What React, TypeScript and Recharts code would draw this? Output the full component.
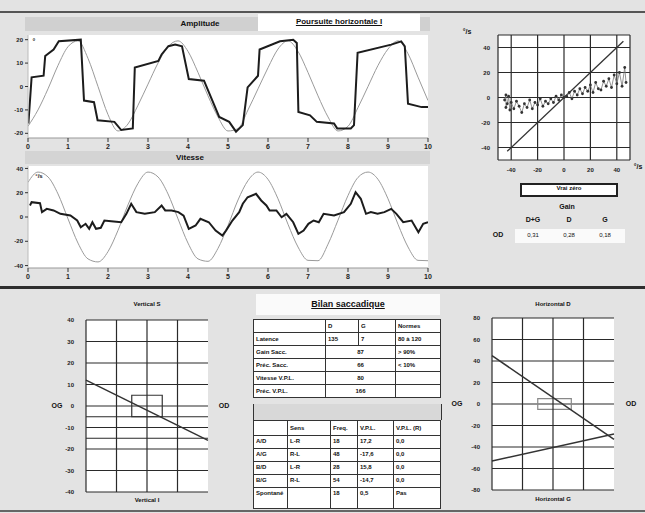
import React from 'react';
import {
  LineChart, Line, XAxis, YAxis, CartesianGrid, ScatterChart, Scatter,
  ReferenceLine, ReferenceArea,
} from 'recharts';

// ---------- DATA ----------
const timeTicks = [0, 1, 2, 3, 4, 5, 6, 7, 8, 9, 10];

// Amplitude: target (thin grey) sampled every 0.25 s
const ampTargetT = [0, 0.25, 0.5, 0.75, 1, 1.25, 1.5, 1.75, 2, 2.25, 2.5, 2.75, 3, 3.25, 3.5, 3.75, 4, 4.25, 4.5, 4.75, 5, 5.25, 5.5, 5.75, 6, 6.25, 6.5, 6.75, 7, 7.25, 7.5, 7.75, 8, 8.25, 8.5, 8.75, 9, 9.25, 9.5, 9.75, 10];
const ampTargetV = [-17, -10, -1, 9, 17, 19.5, 12, 0, -12, -19, -16, -8, 1, 10, 17, 19.5, 15, 6, -4, -13, -19, -18, -10, -1, 8, 16, 19.5, 15, 6, -4, -13, -19, -17, -9, 0, 9, 16, 19.5, 14, 4, -6];
// Amplitude: eye position (staircase)
const ampEyeT = [0.01, 0.09, 0.39, 0.43, 0.64, 0.77, 1.32, 1.4, 1.65, 1.74, 2.16, 2.33, 2.62, 2.67, 3.26, 3.34, 3.51, 3.68, 3.85, 4.02, 4.4, 4.78, 5.03, 5.2, 5.37, 5.49, 5.75, 5.79, 6.3, 6.63, 6.72, 6.76, 7.05, 7.22, 7.65, 7.73, 8.07, 8.15, 8.24, 9.08, 9.33, 9.42, 9.5, 9.84, 10];
const ampEyeV = [-15.8, 3.9, 4.6, 13, 15.8, 19.3, 20, -6, -6.7, -14.4, -15.1, -18.6, -17.9, 8.1, 10.9, 13.7, 17.2, 17.9, 17.2, 3.2, 2.5, -13, -15.1, -19.3, -16.5, -0.4, 4.6, 15.8, 19.3, 20, 18.6, -10.9, -12.3, -15.1, -15.8, -17.9, -17.9, -16.5, 14.4, 17.9, 19.3, 17.2, -7.4, -8.8, -8.8];

// Velocity: target (sinusoid) sampled every 0.25 s
const velTargetV = [28.5, 37, 33, 19, -1.5, -21.5, -34.5, -37, -28.5, -11, 10, 27.7, 37, 33, 19, -1.5, -21.5, -34.5, -36.5, -25.8, -7, 14, 30, 37, 31, 15, -6, -24.7, -35.7, -36, -22.4, -2.6, 17.7, 32.6, 37, 31, 15, -6, -24.7, -35.7, -36];
// Velocity: eye
const velEyeT = [0.05, 0.09, 0.3, 0.35, 0.47, 0.64, 0.81, 1.06, 1.23, 1.32, 1.44, 1.53, 1.61, 1.7, 1.82, 1.91, 2.08, 2.33, 2.46, 2.58, 2.71, 2.92, 3.17, 3.34, 3.43, 3.59, 3.76, 3.89, 4.02, 4.19, 4.31, 4.52, 4.69, 4.86, 4.95, 5.11, 5.28, 5.37, 5.49, 5.7, 5.83, 5.96, 6.04, 6.21, 6.34, 6.46, 6.63, 6.76, 6.89, 7.01, 7.14, 7.27, 7.39, 7.65, 7.9, 8.07, 8.19, 8.32, 8.45, 8.57, 8.74, 8.91, 9.08, 9.21, 9.38, 9.59, 9.76, 9.88, 10];
const velEyeV = [9.5, 12.2, 11.4, 4, 6.7, 5.4, 2.6, 1.2, -2.9, -8.4, -5.6, -9.7, -4.3, -9.7, -8.9, -2.9, -3.5, -4.3, 2.6, 10.9, 4, 2.6, 4, 9.5, 5.4, 5.4, 4, 1.2, -9.7, -7, -1.5, -4.3, -11.2, -15.3, -11.2, -2.9, 4, 10.9, 16.3, 19.1, 13.6, 9.5, 5.4, 5.4, -0.2, 2.6, -4.3, -13.9, -11.2, -5.6, -2.9, -4.3, 2.6, 1.2, 4, 10.9, 20.5, 15, 2.6, 4, 2.6, 4, 6.7, 2.6, -4.3, -2.9, -12.5, -5.6, -4.3];

// Gain scatter: target velocity vs eye velocity
const gainTarget = [-45, -44, -44, -43, -42, -41, -40, -38, -36, -34, -32, -30, -28, -26, -24, -22, -20, -18, -16, -14, -12, -10, -8, -6, -4, -2, 0, 2, 4, 6, 8, 10, 12, 14, 16, 18, 20, 22, 24, 26, 28, 30, 32, 34, 36, 38, 40, 42, 44, 46, 47];
const gainEye = [-2, 2, -8, -5, 1, -10, -4, -9, -3, -7, -12, -5, -8, -2, -9, -4, -6, -1, -7, -3, -5, -1, -4, 1, -2, 2, 0, 1, 4, -1, 5, 2, 7, 3, 8, 5, 10, 4, 12, 7, 6, 13, 9, 15, 8, 18, 11, 20, 9, 24, 12];
const gainTicks = [-40, -20, 0, 20, 40];
const identityLine = [-43, 45];

const gainHeaders = ['D+G', 'D', 'G'];
const gainValues = ['0,31', '0,28', '0,18'];

// Bottom-left chart
const leftTicks = [40, 30, 20, 10, 0, -10, -20, -30, -40];
const leftLineX = [-2, 2];
const leftLineY = [12, -16];
const leftExtra = [-5, -15];
// Bottom-right chart
const rightTicks = [80, 60, 40, 20, 0, -20, -40, -60, -80];
const rightLine1X = [-2, 2];
const rightLine1Y = [45, -33];
const rightLine2X = [-2, 2];
const rightLine2Y = [-53, -28];
const colLines = [-1, 0, 1];

// Table
const table1Header = ['', 'D', 'G', 'Normes'];
const table1Latence = ['Latence', '135', '7', '80 à 120'];
const table1Rows = [
  ['Gain Sacc.', '87', '> 90%'],
  ['Préc. Sacc.', '66', '< 10%'],
  ['Vitesse V.P.L.', '80', ''],
  ['Préc. V.P.L.', '166', ''],
];
const table2Header = ['', 'Sens', 'Freq.', 'V.P.L.', 'V.P.L. (R)'];
const table2Rows = [
  ['A/D', 'L-R', '18', '17,2', '0,0'],
  ['A/G', 'R-L', '48', '-17,6', '0,0'],
  ['B/D', 'L-R', '28', '15,8', '0,0'],
  ['B/G', 'R-L', '54', '-14,7', '0,0'],
  ['Spontané', '', '18', '0,5', 'Pas'],
];

// ---------- BUILD ----------
const ampTarget = ampTargetT.map((t, i) => ({ t, v: ampTargetV[i] }));
const ampEye = ampEyeT.map((t, i) => ({ t, v: ampEyeV[i] }));
const velTarget = ampTargetT.map((t, i) => ({ t, v: velTargetV[i] }));
const velEye = velEyeT.map((t, i) => ({ t, v: velEyeV[i] }));
const gainData = gainTarget.map((x, i) => ({ x, y: gainEye[i] }));
const leftLine = leftLineX.map((x, i) => ({ x, y: leftLineY[i] }));
const rightLine1 = rightLine1X.map((x, i) => ({ x, y: rightLine1Y[i] }));
const rightLine2 = rightLine2X.map((x, i) => ({ x, y: rightLine2Y[i] }));

const FONT = '"Liberation Sans", Arial, sans-serif';
const tickStyle = { fontSize: 6, fontWeight: 'bold' as const, fill: '#222', fontFamily: FONT };

const abs = (left: number, top: number, extra: React.CSSProperties = {}): React.CSSProperties => ({
  position: 'absolute', left, top, ...extra,
});

const Label = ({ x, y, text, size = 7, bold = true, w = 80, align = 'center', underline = false }: any) => (
  <div style={abs(align === 'center' ? x - w / 2 : x, y - size * 0.65, {
    width: w, textAlign: align, fontSize: size, fontWeight: bold ? 'bold' : 'normal',
    fontFamily: FONT, color: '#111', lineHeight: 1.2, whiteSpace: 'nowrap',
    textDecoration: underline ? 'underline' : 'none',
  })}>{text}</div>
);

const TimeChart = ({ top, domain, ticks, target, eye, height }: any) => (
  <div style={abs(0, top)}>
    <LineChart width={440} height={height} margin={{ top: 3, right: 12, bottom: 0, left: 8 }}>
      <CartesianGrid fill="#ffffff" horizontal={false} vertical={false} />
      <XAxis type="number" dataKey="t" domain={[0, 10]} ticks={timeTicks} allowDataOverflow
        tick={{ ...tickStyle, fontSize: 7 }} tickLine={{ stroke: '#333' }} axisLine={{ stroke: '#999' }} height={16} tickSize={4} />
      <YAxis type="number" domain={domain} ticks={ticks} width={20} allowDataOverflow
        tick={tickStyle} tickLine={{ stroke: '#333' }} axisLine={{ stroke: '#bbb' }} tickSize={3} />
      <Line data={target} dataKey="v" type="monotone" stroke="#9a9a9a" strokeWidth={1} dot={false} isAnimationActive={false} />
      <Line data={eye} dataKey="v" type="linear" stroke="#1c1c1c" strokeWidth={2} dot={false} isAnimationActive={false} />
    </LineChart>
  </div>
);

const SmallChart = ({ left, top, ticks, domain, lines, extra, area, areaStroke }: any) => (
  <div style={abs(left, top)}>
    <LineChart width={160} height={184} margin={{ top: 5, right: 12, bottom: 7, left: 0 }}>
      <CartesianGrid fill="#ffffff" stroke="#2a2a2a" strokeWidth={1.2} vertical={false} />
      <XAxis type="number" dataKey="x" domain={[-2, 2]} hide />
      <YAxis type="number" dataKey="y" domain={domain} ticks={ticks} width={26} interval={0}
        tick={tickStyle} axisLine={{ stroke: '#2a2a2a', strokeWidth: 1.2 }} tickLine={false} tickMargin={6} />
      {colLines.map((c) => (
        <ReferenceLine key={'c' + c} x={c} stroke="#2a2a2a" strokeWidth={1.2} />
      ))}
      {(extra || []).map((e: number) => (
        <ReferenceLine key={'e' + e} y={e} stroke="#2a2a2a" strokeWidth={1} />
      ))}
      <ReferenceArea x1={area[0]} x2={area[1]} y1={area[2]} y2={area[3]} fill="none" stroke={areaStroke} strokeWidth={1.2} fillOpacity={0} />
      {lines.map((l: any, i: number) => (
        <Line key={i} data={l} dataKey="y" type="linear" stroke="#333" strokeWidth={1.5} dot={false} isAnimationActive={false} />
      ))}
    </LineChart>
  </div>
);

const cell: React.CSSProperties = {
  border: '1px solid #333', padding: '0 2px', fontSize: 6, fontFamily: FONT, fontWeight: 'bold',
  height: 12, lineHeight: '10px', overflow: 'hidden', whiteSpace: 'nowrap', color: '#111',
};

export default function App() {
  return (
    <div style={abs(0, 0, { width: 645, height: 513, background: '#e3e3e3', overflow: 'hidden' })}>
      {/* frame lines */}
      <div style={abs(0, 11, { width: 645, height: 2, background: '#555' })} />
      <div style={abs(0, 286, { width: 645, height: 3, background: '#2e2e2e' })} />
      <div style={abs(0, 510, { width: 645, height: 2, background: '#666' })} />

      {/* Amplitude header */}
      <div style={abs(25, 17, { width: 405, height: 14, background: '#d0d0d0' })} />
      <Label x={200} y={24} text="Amplitude" size={8} />
      <div style={abs(258, 14, { width: 162, height: 17, background: '#fff' })} />
      <Label x={339} y={22} text="Poursuite horizontale I" size={8} w={160} underline />

      <TimeChart top={32} height={122} domain={[-22, 22]} ticks={[20, 10, 0, -10, -20]} target={ampTarget} eye={ampEye} />
      <Label x={34} y={43} text="°" size={7} w={10} />

      {/* Vitesse header */}
      <div style={abs(25, 151, { width: 405, height: 13, background: '#d4d4d4' })} />
      <Label x={190} y={158} text="Vitesse" size={8} />

      <TimeChart top={163} height={121} domain={[-42, 42]} ticks={[40, 20, 0, -20, -40]} target={velTarget} eye={velEye} />
      <Label x={39} y={177} text="°/s" size={6} w={14} />

      {/* Gain scatter */}
      <Label x={467} y={33} text="°/s" size={7} w={16} />
      <div style={abs(470, 30)}>
        <ScatterChart width={170} height={148} margin={{ top: 5, right: 10, bottom: 0, left: 0 }}>
          <CartesianGrid fill="#ffffff" stroke="#2a2a2a" strokeWidth={1.2} />
          <XAxis type="number" dataKey="x" domain={[-50, 50]} ticks={gainTicks} interval={0} height={18}
            tick={tickStyle} tickLine={false} axisLine={false} />
          <YAxis type="number" dataKey="y" domain={[-50, 50]} ticks={gainTicks} interval={0} width={28}
            tick={tickStyle} tickLine={false} axisLine={false} />
          <ReferenceLine segment={[{ x: identityLine[0], y: identityLine[0] }, { x: identityLine[1], y: identityLine[1] }]}
            stroke="#333" strokeWidth={1.3} />
          <Scatter data={gainData} line={{ stroke: '#777', strokeWidth: 0.8 }} fill="#222"
            shape={(p: any) => <circle cx={p.cx} cy={p.cy} r={1.4} fill="#333" />} isAnimationActive={false} />
        </ScatterChart>
      </div>
      <Label x={638} y={168} text="°/s" size={7} w={16} />

      <div style={abs(520, 183, { width: 94, height: 10, border: '2px solid #222', background: '#fff' })} />
      <Label x={569} y={189} text="Vrai zéro" size={6} />
      <Label x={567} y={208} text="Gain" size={7} />
      {gainHeaders.map((h, i) => (
        <Label key={h} x={533 + i * 36} y={221} text={h} size={7} w={30} />
      ))}
      <div style={abs(515, 229, { width: 110, height: 14, background: '#fafafa' })} />
      <Label x={498} y={236} text="OD" size={7} w={20} />
      {gainValues.map((v, i) => (
        <Label key={i} x={533 + i * 36} y={236} text={v} size={6} w={30} bold={false} />
      ))}

      {/* Bottom-left chart */}
      <Label x={147} y={305} text="Vertical S" size={6} />
      <SmallChart left={60} top={315} ticks={leftTicks} domain={[-40, 40]} lines={[leftLine]} extra={leftExtra}
        area={[-0.5, 0.5, -5, 5]} areaStroke="#333" />
      <Label x={147} y={501} text="Vertical I" size={6} />
      <Label x={57} y={407} text="OG" size={7} w={20} />
      <Label x={224} y={407} text="OD" size={7} w={20} />

      {/* Bottom-right chart */}
      <Label x={553} y={305} text="Horizontal D" size={6} />
      <SmallChart left={466} top={313} ticks={rightTicks} domain={[-80, 80]} lines={[rightLine1, rightLine2]}
        area={[-0.5, 0.6, -5, 5]} areaStroke="#888" />
      <Label x={553} y={500} text="Horizontal G" size={6} />
      <Label x={457} y={405} text="OG" size={7} w={20} />
      <Label x={631} y={405} text="OD" size={7} w={20} />

      {/* Center table */}
      <div style={abs(256, 294, { width: 184, height: 21, background: '#fafafa' })} />
      <Label x={348} y={305} text="Bilan saccadique" size={9} w={180} underline />
      <table style={abs(253, 319, { borderCollapse: 'collapse', tableLayout: 'fixed', width: 187, background: '#fff' })}>
        <colgroup><col style={{ width: 72 }} /><col style={{ width: 33 }} /><col style={{ width: 37 }} /><col style={{ width: 45 }} /></colgroup>
        <tbody>
          <tr>{table1Header.map((h, i) => <td key={i} style={cell}>{h}</td>)}</tr>
          <tr>{table1Latence.map((h, i) => <td key={i} style={cell}>{h}</td>)}</tr>
          {table1Rows.map((r, i) => (
            <tr key={i}>
              <td style={cell}>{r[0]}</td>
              <td colSpan={2} style={{ ...cell, textAlign: 'center' }}>{r[1]}</td>
              <td style={cell}>{r[2]}</td>
            </tr>
          ))}
        </tbody>
      </table>
      <div style={abs(253, 404, { width: 187, height: 16, background: '#d8d8d8', borderLeft: '1px solid #333', borderRight: '1px solid #333' })} />
      <table style={abs(253, 420, { borderCollapse: 'collapse', tableLayout: 'fixed', width: 187, background: '#fff' })}>
        <colgroup><col style={{ width: 34 }} /><col style={{ width: 43 }} /><col style={{ width: 27 }} /><col style={{ width: 36 }} /><col style={{ width: 47 }} /></colgroup>
        <tbody>
          <tr>{table2Header.map((h, i) => <td key={i} style={{ ...cell, height: 14 }}>{h}</td>)}</tr>
          {table2Rows.map((r, i) => (
            <tr key={i}>
              {r.map((c, j) => <td key={j} style={{ ...cell, height: i === table2Rows.length - 1 ? 20 : 12, verticalAlign: 'top' }}>{c}</td>)}
            </tr>
          ))}
        </tbody>
      </table>
    </div>
  );
}
